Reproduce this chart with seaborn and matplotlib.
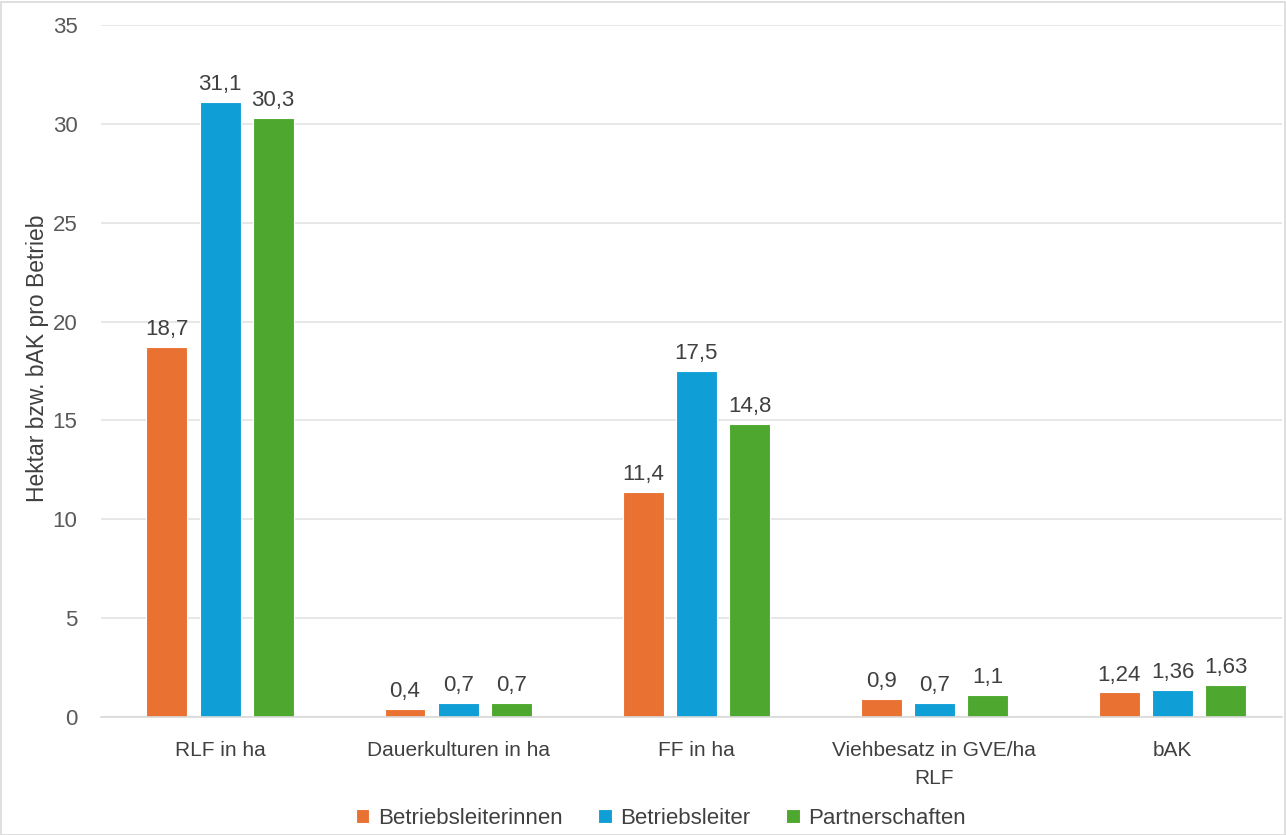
import matplotlib
matplotlib.use("Agg")
import matplotlib.pyplot as plt
import seaborn as sns
import pandas as pd
from matplotlib.patches import Rectangle

categories = ["RLF in ha", "Dauerkulturen in ha", "FF in ha", "Viehbesatz in GVE/ha\nRLF", "bAK"]
series = ["Betriebsleiterinnen", "Betriebsleiter", "Partnerschaften"]
betriebsleiterinnen = [18.7, 0.4, 11.4, 0.9, 1.24]
betriebsleiter = [31.1, 0.7, 17.5, 0.7, 1.36]
partnerschaften = [30.3, 0.7, 14.8, 1.1, 1.63]
labels = [
    ["18,7", "0,4", "11,4", "0,9", "1,24"],
    ["31,1", "0,7", "17,5", "0,7", "1,36"],
    ["30,3", "0,7", "14,8", "1,1", "1,63"],
]
colors = ["#E97132", "#0F9ED5", "#4EA72E"]

rows = []
for s, vals in zip(series, [betriebsleiterinnen, betriebsleiter, partnerschaften]):
    for c, v in zip(categories, vals):
        rows.append({"Kategorie": c, "Gruppe": s, "Wert": v})
df = pd.DataFrame(rows)

sns.set_theme(style="white")
plt.rcParams["font.family"] = ["Liberation Sans", "DejaVu Sans"]

fig = plt.figure(figsize=(12.86, 8.35), dpi=100)
ax = fig.add_axes([101 / 1286, 118 / 835, (1282 - 101) / 1286, (717 - 25) / 835])

sns.barplot(data=df, x="Kategorie", y="Wert", hue="Gruppe", order=categories,
            hue_order=series, palette=colors, width=0.67, gap=0.23,
            saturation=1, ax=ax, legend=True, edgecolor="white", linewidth=0.8)

for cont, labs in zip(ax.containers, labels):
    ax.bar_label(cont, labels=labs, padding=5, fontsize=16, color="#404040")

ax.set_ylim(0, 35)
ax.set_xlim(-0.5, 4.46)
ax.set_yticks(range(0, 36, 5))
ax.yaxis.grid(True, color="#E3E3E3", linewidth=1.2)
ax.set_axisbelow(True)
for sp in ["top", "right", "left"]:
    ax.spines[sp].set_visible(False)
ax.spines["bottom"].set_color("#D9D9D9")
ax.spines["bottom"].set_linewidth(1.2)
ax.tick_params(axis="y", length=0, labelsize=16, labelcolor="#595959", pad=17)
ax.tick_params(axis="x", length=0, labelsize=15, labelcolor="#404040", pad=17)
for t in ax.get_xticklabels():
    t.set_linespacing(1.6)
ax.set_xlabel("")
ax.set_ylabel("Hektar bzw. bAK pro Betrieb", fontsize=16.5, color="#404040")
ax.yaxis.set_label_coords(-52 / (1282 - 101), 0.519)

leg = ax.get_legend()
handles, lbls = ax.get_legend_handles_labels()
leg.remove()
fig.legend(handles, lbls, loc="center", bbox_to_anchor=(661 / 1286, 1 - 818 / 835), ncol=3,
           frameon=False, fontsize=16, handlelength=0.6, handleheight=0.6,
           columnspacing=1.6, handletextpad=0.4, labelcolor="#404040")

fig.patches.append(Rectangle((0.5 / 1286, 0.5 / 835), 1 - 2 / 1286, 1 - 2 / 835,
                             transform=fig.transFigure, fill=False,
                             edgecolor="#D9D9D9", linewidth=1.2))

fig.savefig("out.png", dpi=100)
